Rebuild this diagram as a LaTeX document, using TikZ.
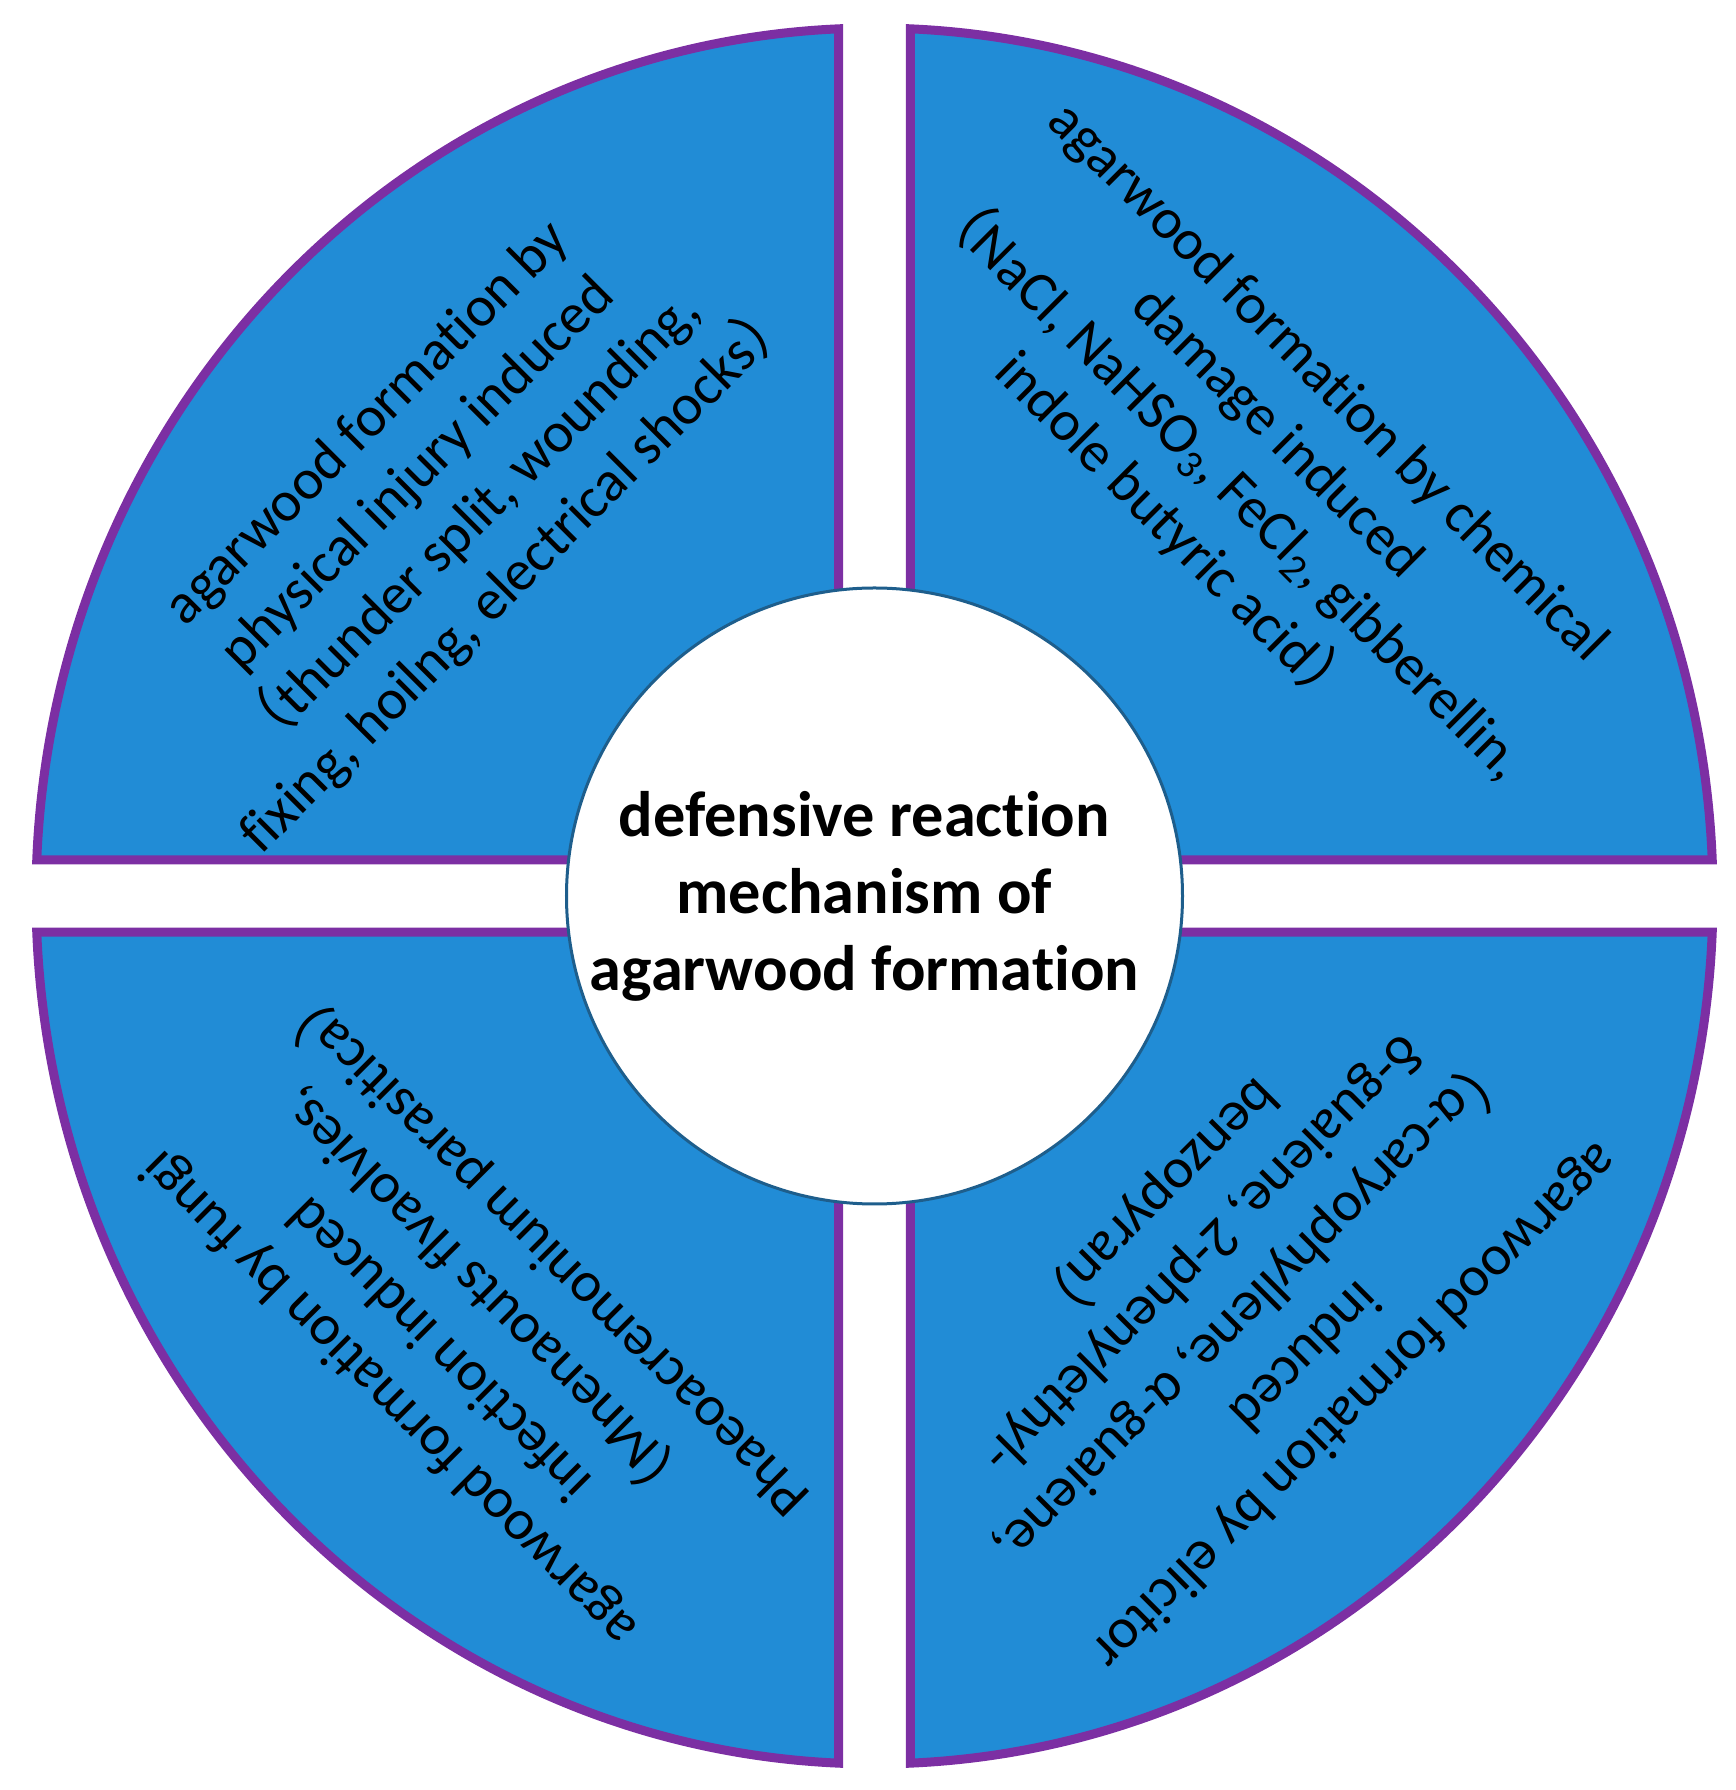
\documentclass[tikz,border=0pt]{standalone}
\usepackage{fontspec}
\setmainfont{Carlito}[Ligatures=NoCommon]
\newfontfamily\cjk{Noto Sans CJK SC}
\usepackage{tikz}
\definecolor{quadblue}{RGB}{33,140,214}
\definecolor{quadrim}{RGB}{124,47,163}
\definecolor{hubrim}{RGB}{30,94,140}

\begin{document}
\begin{tikzpicture}[
  x=1cm, y=1cm,
  quad/.style={draw=quadrim, fill=quadblue, line width=0.9mm},
  hub/.style={circle, draw=hubrim, fill=white, line width=0.3mm,
              minimum size=6.16cm, inner sep=0pt},
  hubtxt/.style={align=center, inner sep=0pt,
              font={\bfseries\fontsize{18.3}{21.9}\selectfont}},
  lbl/.style={align=center, inner sep=0pt,
              font={\fontsize{16.3}{20.4}\selectfont}},
]
  \useasboundingbox (-8.745,-8.940) rectangle (8.605,8.960);
  % four quarters of the ring
  \draw[quad] (-0.36,0.36) -- (92.46:8.385 and 8.68)
    arc[start angle=92.46, end angle=177.62, x radius=8.385, y radius=8.68] -- cycle;
  \draw[quad] (0.36,0.36) -- (2.38:8.385 and 8.68)
    arc[start angle=2.38, end angle=87.54, x radius=8.385, y radius=8.68] -- cycle;
  \draw[quad] (-0.36,-0.36) -- (182.38:8.385 and 8.68)
    arc[start angle=182.38, end angle=267.54, x radius=8.385, y radius=8.68] -- cycle;
  \draw[quad] (0.36,-0.36) -- (272.46:8.385 and 8.68)
    arc[start angle=272.46, end angle=357.62, x radius=8.385, y radius=8.68] -- cycle;
  \node[hub] (hub) at (0,0) {};
  \node[hubtxt] (title) at (-0.1,0) {defensive reaction\\mechanism of\\agarwood formation};
  \node[lbl, rotate=45] (phys) at (-4.305,3.960)
    {agarwood formation by\\physical injury induced\\{\cjk （}thunder split, wounding,\\fixing, hoilng, electrical shocks{\cjk ）}};
  \node[lbl, rotate=-45] (chem) at (3.765,4.370)
    {agarwood formation by chemical\\damage induced\\{\cjk （}NaCl, NaHSO\textsubscript{3}, FeCl\textsubscript{2}, gibberellin,\\indole butyric acid{\cjk ）}};
  \node[lbl, rotate=135] (fung) at (-4.085,-4.260)
    {agarwood formation by fungi\\infection induced\\{\cjk （}Mnenaouts flvaolvies,\\Phaeoacremonium parasitica{\cjk ）}};
  \node[lbl, rotate=225] (elic) at (3.780,-4.080)
    {agarwood formation by elicitor\\induced\\{\cjk （}α-caryophyllene, α-guaiene,\\δ-guaiene, 2-phenylethyl-\\benzopyran{\cjk ）}};
\end{tikzpicture}
\end{document}
